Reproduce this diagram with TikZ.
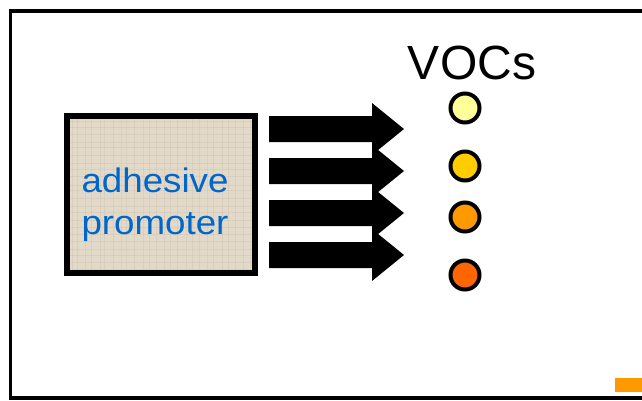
\documentclass[tikz,border=0pt]{standalone}
\usepackage{fontspec}
\setmainfont{Liberation Sans}
\definecolor{txtblue}{HTML}{0066CC}
\definecolor{beige}{RGB}{226,217,200}
\definecolor{beigeline}{RGB}{200,190,172}
\definecolor{voc1}{HTML}{FFFF99}
\definecolor{voc2}{HTML}{FFCC00}
\definecolor{voc3}{HTML}{FF9900}
\definecolor{voc4}{HTML}{FF6600}
\tikzset{
  vocdot/.style={circle, draw=black, line width=4pt, minimum size=29pt, inner sep=0pt},
  bigarrow/.style={fill=black, draw=none},
  texture/.style={beigeline, line width=0.6pt, opacity=0.35},
}
\begin{document}
\begin{tikzpicture}[x=1pt,y=-1pt]
\useasboundingbox (0,0) rectangle (642,400);
\clip (0,0) rectangle (642,400);
\fill[white] (0,0) rectangle (642,400);
% outer frame
\draw[line width=3.5pt] (650,11) -- (10.5,11) -- (10.5,398) -- (650,398);
% orange mark
\fill[voc3] (615,378) rectangle (642,392);
% textured box
\fill[beige] (64,113) rectangle (258,276);
\foreach \x in {72,77,85,91,100,104,113,121,126,134,143,149,156,164,170,177,186,192,199,207,213,222,228,235,243,250} {
  \draw[texture] (\x,116) -- (\x,273);
}
\foreach \y in {121,127,134,142,147,155,163,169,176,185,190,198,206,212,220,227,234,241,249,255,262,269} {
  \draw[texture] (67,\y) -- (255,\y);
}
\node[draw=black, line width=5.5pt, minimum width=188pt, minimum height=157pt, inner sep=0pt] (box) at (161,194.5) {};
\node[text=txtblue, font=\fontsize{34}{42}\selectfont, align=center, xscale=1.08, inner sep=0pt] (lbl) at (155,205) {adhesive\\promoter};
% arrows
\foreach \t/\n in {129/a1,171/a2,213/a3,255/a4} {
  \fill[bigarrow] (269,\t-13) -- (372,\t-13) -- (372,\t-26) -- (404,\t) -- (372,\t+26) -- (372,\t+13) -- (269,\t+13) -- cycle;
  \coordinate (\n) at (404,\t);
}
% VOCs
\node[font=\fontsize{48}{56}\selectfont, inner sep=0pt, anchor=base] (voc) at (472,79) {VOCs};
\node[vocdot, fill=voc1] (c1) at (465,108) {};
\node[vocdot, fill=voc2] (c2) at (465,166) {};
\node[vocdot, fill=voc3] (c3) at (465,217) {};
\node[vocdot, fill=voc4] (c4) at (465,275) {};
\end{tikzpicture}
\end{document}
